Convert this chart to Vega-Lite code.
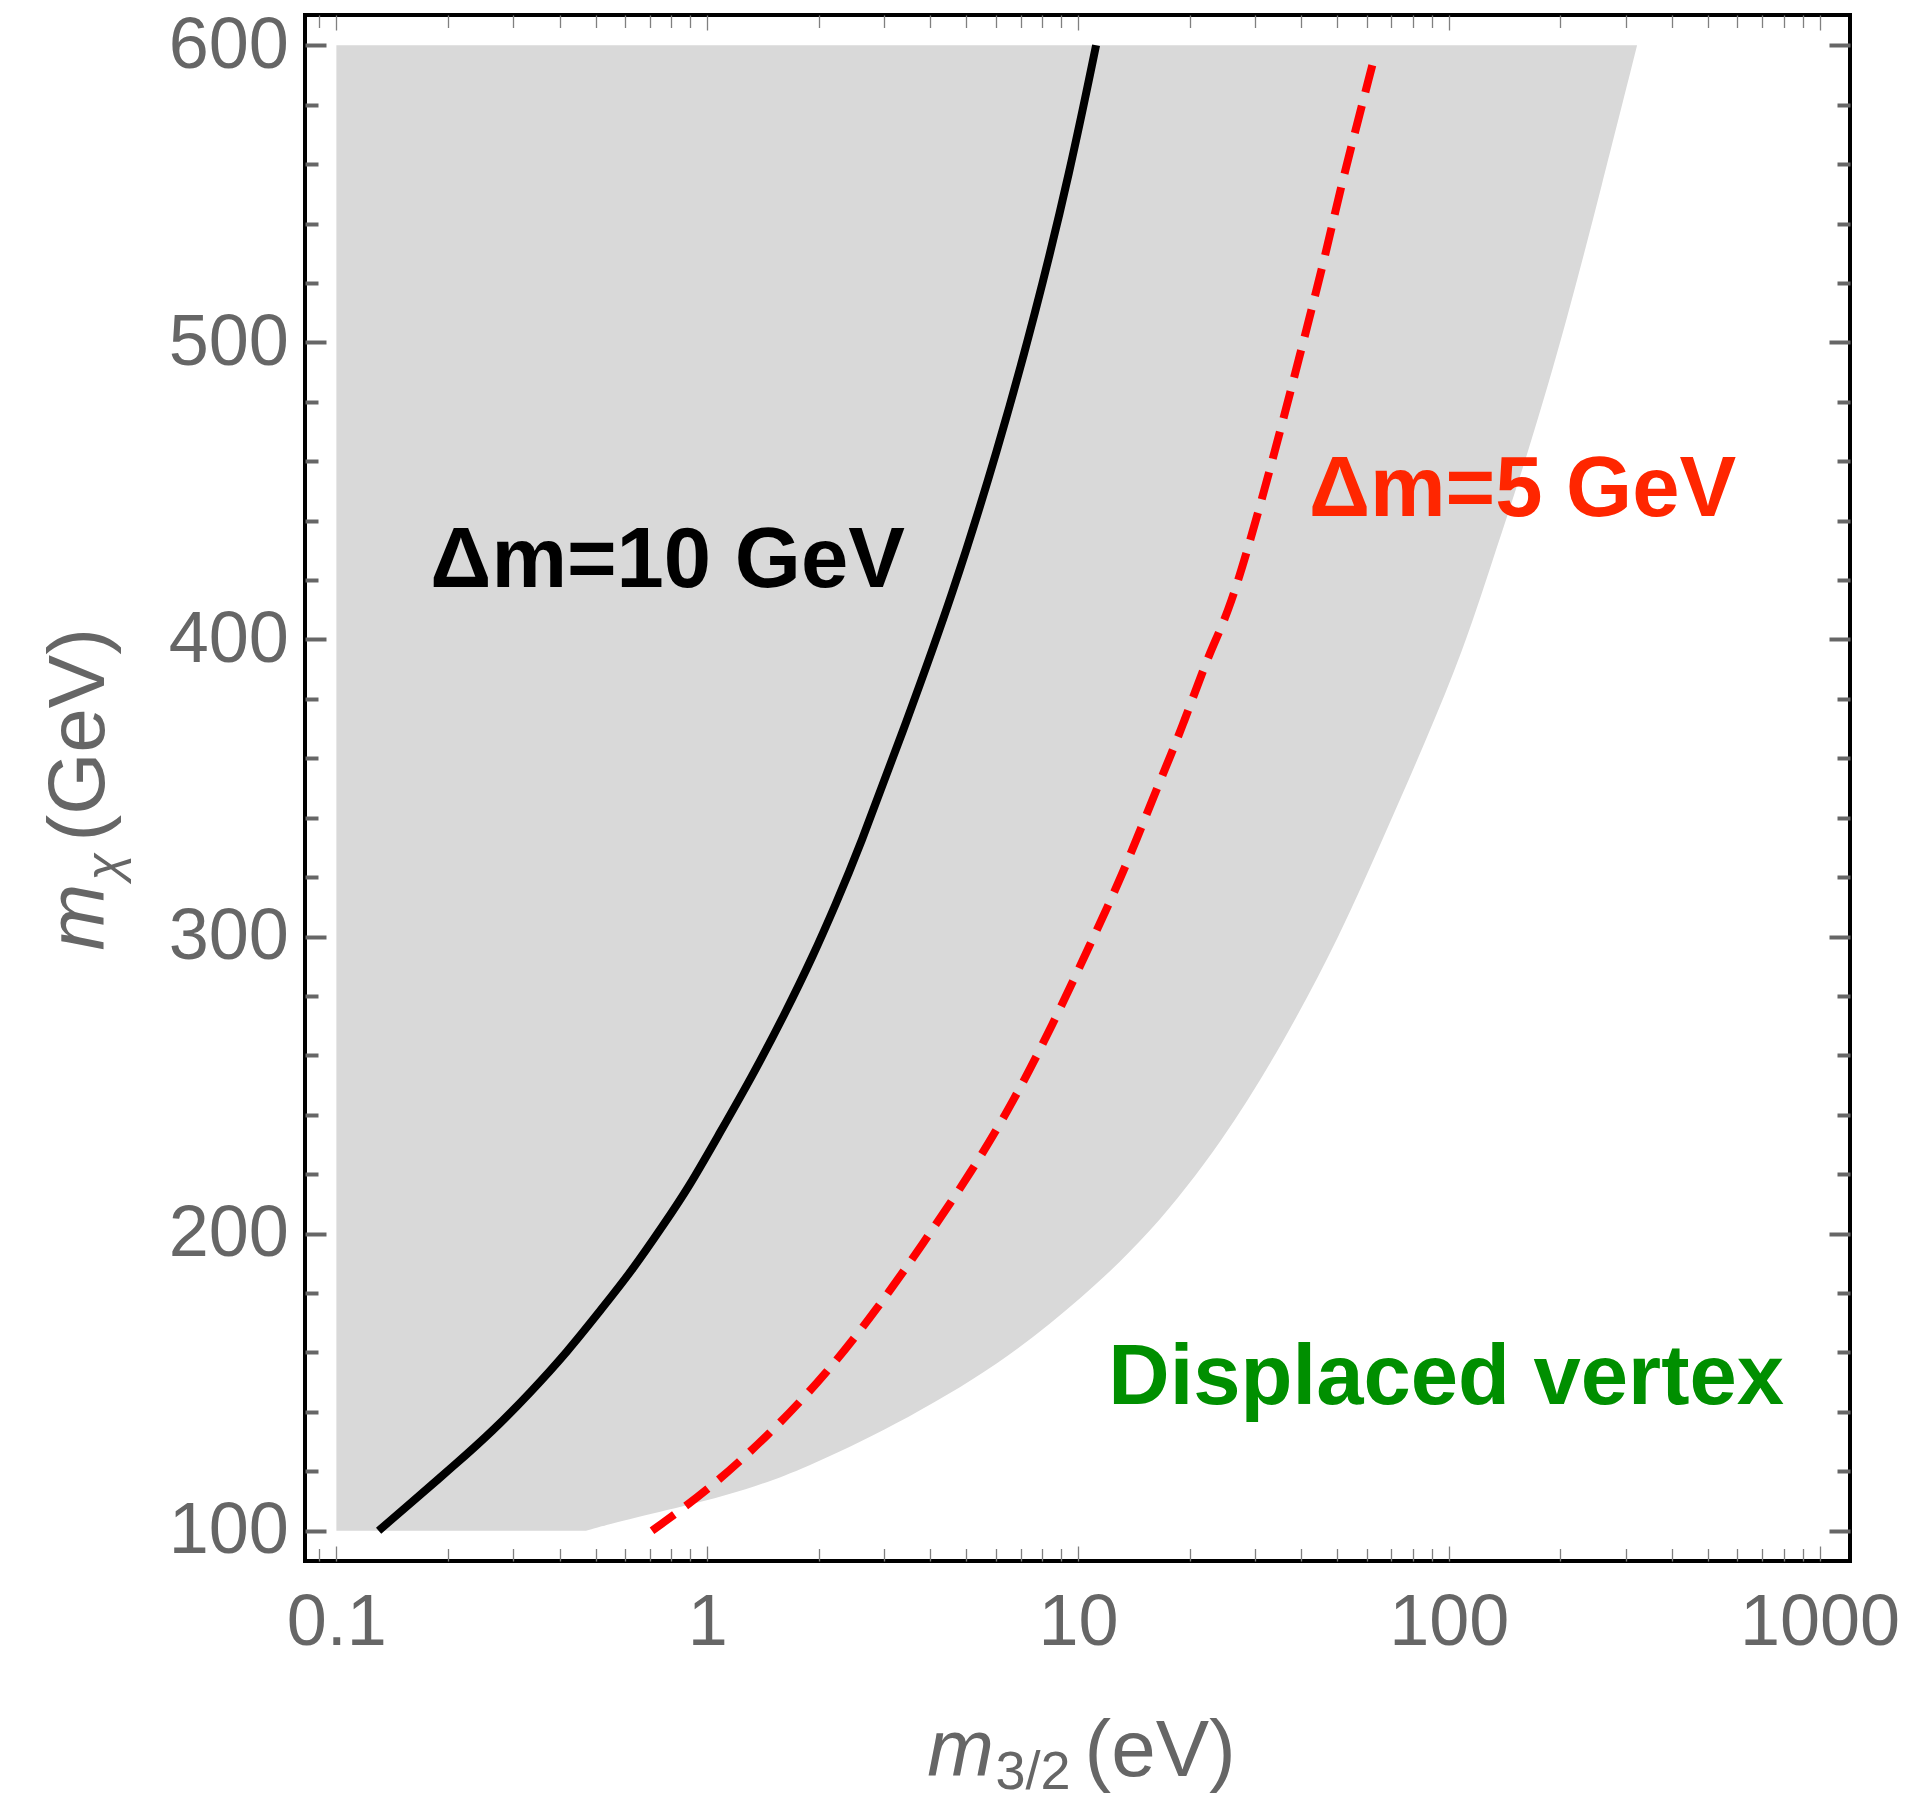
{
  "$schema": "https://vega.github.io/schema/vega-lite/v6.json",
  "width": 1545,
  "height": 1546,
  "autosize": {"type": "none"},
  "padding": {"left": 305, "top": 15, "right": 66, "bottom": 242},
  "background": "white",
  "config": {
    "view": {"stroke": "#000000", "strokeWidth": 4},
    "axis": {"grid": false, "domain": false, "labelFont": "Liberation Sans", "titleFont": "Liberation Sans", "titleFontWeight": "normal", "titleColor": "#666666", "labelColor": "#666666", "labelFlush": false, "labelOverlap": false, "zindex": 1}
  },
  "datasets": {
    "band": [
      {"mchi": 100, "m32": 0.471},
      {"mchi": 103.1, "m32": 0.579},
      {"mchi": 108.1, "m32": 0.86},
      {"mchi": 113.7, "m32": 1.277},
      {"mchi": 120.8, "m32": 1.82},
      {"mchi": 135, "m32": 3.17},
      {"mchi": 156.2, "m32": 6.22},
      {"mchi": 178.6, "m32": 10.3},
      {"mchi": 199.6, "m32": 15.6},
      {"mchi": 231.1, "m32": 24.6},
      {"mchi": 264.2, "m32": 35.8},
      {"mchi": 300.3, "m32": 50.9},
      {"mchi": 333.3, "m32": 66.6},
      {"mchi": 366.4, "m32": 87.1},
      {"mchi": 396.4, "m32": 109.4},
      {"mchi": 424.6, "m32": 129.6},
      {"mchi": 463.3, "m32": 164.3},
      {"mchi": 507.7, "m32": 208.5},
      {"mchi": 552.3, "m32": 258},
      {"mchi": 600, "m32": 322}
    ],
    "dm10": [
      {"m32": 0.13, "mchi": 100},
      {"m32": 0.1545, "mchi": 108.1},
      {"m32": 0.209, "mchi": 122.2},
      {"m32": 0.2642, "mchi": 133.6},
      {"m32": 0.3325, "mchi": 146.3},
      {"m32": 0.4217, "mchi": 160.5},
      {"m32": 0.514, "mchi": 174},
      {"m32": 0.626, "mchi": 187.4},
      {"m32": 0.763, "mchi": 203},
      {"m32": 0.894, "mchi": 215.8},
      {"m32": 1.069, "mchi": 232.8},
      {"m32": 1.318, "mchi": 252.6},
      {"m32": 1.62, "mchi": 273.9},
      {"m32": 1.936, "mchi": 293.8},
      {"m32": 2.223, "mchi": 311},
      {"m32": 2.54, "mchi": 328},
      {"m32": 3.45, "mchi": 372.4},
      {"m32": 4.59, "mchi": 415},
      {"m32": 6.06, "mchi": 463.3},
      {"m32": 7.68, "mchi": 509.7},
      {"m32": 9.54, "mchi": 558.1},
      {"m32": 11.19, "mchi": 600}
    ],
    "dm5": [
      {"m32": 0.71, "mchi": 100},
      {"m32": 1.0074, "mchi": 113.7},
      {"m32": 1.467, "mchi": 132.2},
      {"m32": 2.094, "mchi": 152.7},
      {"m32": 2.876, "mchi": 174.7},
      {"m32": 3.79, "mchi": 196},
      {"m32": 5.21, "mchi": 221.5},
      {"m32": 6.73, "mchi": 244.9},
      {"m32": 8.6, "mchi": 271},
      {"m32": 10.8, "mchi": 297.5},
      {"m32": 13.24, "mchi": 321.3},
      {"m32": 15.96, "mchi": 346.9},
      {"m32": 19.2, "mchi": 370.9},
      {"m32": 22.7, "mchi": 396.4},
      {"m32": 25.6, "mchi": 409.2},
      {"m32": 31.2, "mchi": 445.9},
      {"m32": 38.0, "mchi": 486.5},
      {"m32": 47.3, "mchi": 532.9},
      {"m32": 50.2, "mchi": 548.4},
      {"m32": 63.0, "mchi": 596}
    ],
    "labels": [
      {"label": "Δm=10 GeV", "m32": 0.782, "mchi": 417.6},
      {"label": "Δm=5 GeV", "m32": 158.1, "mchi": 441.5},
      {"label": "Displaced vertex", "m32": 98.4, "mchi": 142.7}
    ]
  },
  "layer": [
    {
      "data": {"name": "band"},
      "mark": {"type": "area", "orient": "horizontal", "color": "#d9d9d9", "interpolate": "basis"},
      "encoding": {
        "y": {"field": "mchi", "type": "quantitative", "sort": null,
          "scale": {"domain": [89.8, 610.2], "nice": false, "zero": false},
          "axis": {"orient": "left", "values": [100, 200, 300, 400, 500, 600], "format": "d", "ticks": false, "labelPadding": 16.7, "labelFontSize": 72, "labelBaseline": "middle",
            "title": "(GeV)", "titleFontSize": 80, "titleAngle": 270, "titleAlign": "left", "titleBaseline": "alphabetic", "titleX": -201.7, "titleY": 826}},
        "x": {"field": "m32", "type": "quantitative", "stack": null,
          "scale": {"type": "log", "domain": [0.0823, 1208], "nice": false},
          "axis": {"orient": "bottom", "values": [0.1, 1, 10, 100, 1000], "format": "~g", "ticks": false, "labelPadding": 26, "labelFontSize": 72, "labelBaseline": "top",
            "title": "(eV)", "titleFontSize": 80, "titleAngle": 0, "titleAlign": "left", "titleBaseline": "alphabetic", "titleX": 779, "titleY": 214}},
        "x2": {"datum": 0.1}
      }
    },
    {
      "data": {"name": "dm10"},
      "mark": {"type": "line", "color": "#000000", "strokeWidth": 8, "interpolate": "basis"},
      "encoding": {
        "x": {"field": "m32", "type": "quantitative",
          "scale": {"type": "log", "domain": [0.0823, 1208], "nice": false},
          "axis": {"orient": "bottom", "offset": -15, "values": [0.1, 1, 10, 100, 1000], "labels": false, "ticks": true, "tickSize": 15, "tickWidth": 1.3, "tickColor": "#808080",
            "title": "m", "titleFontSize": 80, "titleFontStyle": "italic", "titleAngle": 0, "titleAlign": "left", "titleBaseline": "alphabetic", "titleX": 621.7, "titleY": 229}},
        "y": {"field": "mchi", "type": "quantitative",
          "scale": {"domain": [89.8, 610.2], "nice": false, "zero": false},
          "axis": {"orient": "left", "offset": -21, "values": [100, 200, 300, 400, 500, 600], "labels": false, "ticks": true, "tickSize": 21, "tickWidth": 4, "tickColor": "#666666",
            "title": "m", "titleFontSize": 80, "titleFontStyle": "italic", "titleAngle": 270, "titleAlign": "left", "titleBaseline": "alphabetic", "titleX": -222.7, "titleY": 935}}
      }
    },
    {
      "data": {"name": "dm5"},
      "mark": {"type": "line", "color": "#ff0000", "strokeWidth": 8, "strokeDash": [28, 14], "interpolate": "basis"},
      "encoding": {
        "x": {"field": "m32", "type": "quantitative",
          "scale": {"type": "log", "domain": [0.0823, 1208], "nice": false},
          "axis": {"orient": "bottom", "offset": -12.5, "values": [0.09, 0.2, 0.3, 0.4, 0.5, 0.6, 0.7, 0.8, 0.9, 2, 3, 4, 5, 6, 7, 8, 9, 20, 30, 40, 50, 60, 70, 80, 90, 200, 300, 400, 500, 600, 700, 800, 900], "labels": false, "ticks": true, "tickSize": 12.5, "tickWidth": 1.3, "tickColor": "#808080",
            "title": "3/2", "titleFontSize": 54, "titleAngle": 0, "titleAlign": "left", "titleBaseline": "alphabetic", "titleX": 690, "titleY": 239.5}},
        "y": {"field": "mchi", "type": "quantitative",
          "scale": {"domain": [89.8, 610.2], "nice": false, "zero": false},
          "axis": {"orient": "left", "offset": -13, "values": [120, 140, 160, 180, 220, 240, 260, 280, 320, 340, 360, 380, 420, 440, 460, 480, 520, 540, 560, 580], "labels": false, "ticks": true, "tickSize": 13, "tickWidth": 4, "tickColor": "#666666",
            "title": "χ", "titleFontSize": 50, "titleFontStyle": "italic", "titleAngle": 270, "titleAlign": "left", "titleBaseline": "alphabetic", "titleX": -198, "titleY": 865}}
      }
    },
    {
      "data": {"name": "labels"},
      "transform": [{"filter": "datum.label === 'Δm=10 GeV'"}],
      "mark": {"type": "text", "font": "Liberation Sans", "fontSize": 85, "fontWeight": "bold", "align": "center", "baseline": "alphabetic", "color": "#000000"},
      "encoding": {
        "x": {"field": "m32", "type": "quantitative",
          "scale": {"type": "log", "domain": [0.0823, 1208], "nice": false},
          "axis": {"orient": "top", "offset": -15, "values": [0.1, 1, 10, 100, 1000], "labels": false, "ticks": true, "tickSize": 15, "tickWidth": 1.3, "tickColor": "#808080", "title": null}},
        "y": {"field": "mchi", "type": "quantitative",
          "scale": {"domain": [89.8, 610.2], "nice": false, "zero": false},
          "axis": {"orient": "right", "offset": -21, "values": [100, 200, 300, 400, 500, 600], "labels": false, "ticks": true, "tickSize": 21, "tickWidth": 4, "tickColor": "#666666", "title": null}},
        "text": {"field": "label", "type": "nominal"}
      }
    },
    {
      "data": {"name": "labels"},
      "transform": [{"filter": "datum.label === 'Δm=5 GeV'"}],
      "mark": {"type": "text", "font": "Liberation Sans", "fontSize": 85, "fontWeight": "bold", "align": "center", "baseline": "alphabetic", "color": "#ff2600"},
      "encoding": {
        "x": {"field": "m32", "type": "quantitative",
          "scale": {"type": "log", "domain": [0.0823, 1208], "nice": false},
          "axis": {"orient": "top", "offset": -12.5, "values": [0.09, 0.2, 0.3, 0.4, 0.5, 0.6, 0.7, 0.8, 0.9, 2, 3, 4, 5, 6, 7, 8, 9, 20, 30, 40, 50, 60, 70, 80, 90, 200, 300, 400, 500, 600, 700, 800, 900], "labels": false, "ticks": true, "tickSize": 12.5, "tickWidth": 1.3, "tickColor": "#808080", "title": null}},
        "y": {"field": "mchi", "type": "quantitative",
          "scale": {"domain": [89.8, 610.2], "nice": false, "zero": false},
          "axis": {"orient": "right", "offset": -13, "values": [120, 140, 160, 180, 220, 240, 260, 280, 320, 340, 360, 380, 420, 440, 460, 480, 520, 540, 560, 580], "labels": false, "ticks": true, "tickSize": 13, "tickWidth": 4, "tickColor": "#666666", "title": null}},
        "text": {"field": "label", "type": "nominal"}
      }
    },
    {
      "data": {"name": "labels"},
      "transform": [{"filter": "datum.label === 'Displaced vertex'"}],
      "mark": {"type": "text", "font": "Liberation Sans", "fontSize": 85, "fontWeight": "bold", "align": "center", "baseline": "alphabetic", "color": "#008f00"},
      "encoding": {
        "x": {"field": "m32", "type": "quantitative",
          "scale": {"type": "log", "domain": [0.0823, 1208], "nice": false},
          "axis": null},
        "y": {"field": "mchi", "type": "quantitative",
          "scale": {"domain": [89.8, 610.2], "nice": false, "zero": false},
          "axis": null},
        "text": {"field": "label", "type": "nominal"}
      }
    }
  ],
  "resolve": {"axis": {"x": "independent", "y": "independent"}}
}
